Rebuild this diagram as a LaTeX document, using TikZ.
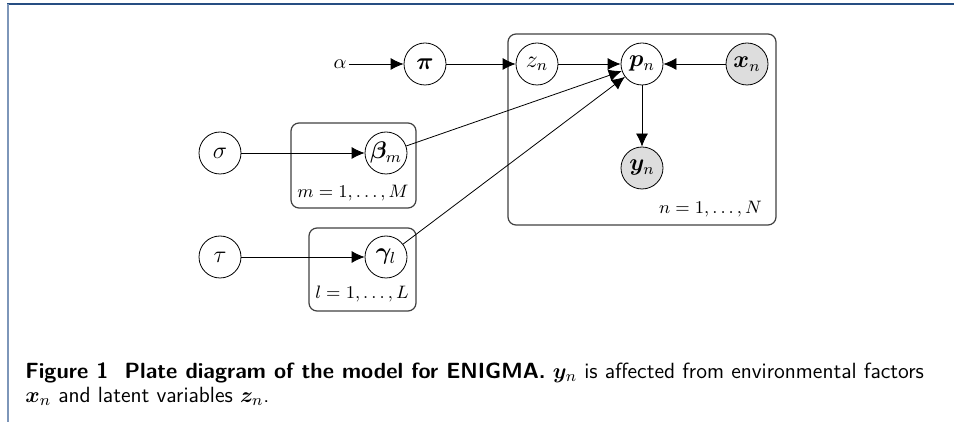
\documentclass[tikz,border=0pt]{standalone}
\usepackage{amsmath}
\usepackage{bm}
\usepackage{tikz}
\usetikzlibrary{arrows.meta}
\usetikzlibrary{positioning}
\definecolor{obs}{RGB}{221, 221, 221}
\definecolor{frametop}{RGB}{38, 78, 130}
\definecolor{frameleft}{RGB}{125, 150, 185}
\tikzset{
  latent/.style={circle, minimum size=21pt, inner sep=0pt, draw=black, line width=0.4pt, fill=white, font=\fontsize{11.5}{13}\selectfont},
  observed/.style={latent, fill=obs},
  plate/.style={draw=black!75, line width=0.6pt, rounded corners=4pt},
  platelab/.style={font=\fontsize{8.6}{10}\selectfont},
  edge/.style={-{Latex[length=6.5pt,width=6pt]}, line width=0.4pt, color=black}
}

\begin{document}
\begin{tikzpicture}[x=0.5pt, y=-0.5pt]
\useasboundingbox (0,0) rectangle (954,422);
% frame
\draw [frametop, line width=1pt] (7,4) -- (954,4);
\draw [frameleft, line width=1pt] (8,4) -- (8,422);
% plates
\draw [plate] (508,34) rectangle (776,225);
\draw [plate] (291,123) rectangle (416,208);
\draw [plate] (309,228) rectangle (416,311);
\node (Nlab) [platelab, anchor=east] at (769,209) {$n = 1, \ldots, N$};
\node (Mlab) [platelab] at (353,193) {$m = 1, \ldots, M$};
\node (Llab) [platelab] at (362,294) {$l = 1, \ldots, L$};
% nodes
\node (alpha) [inner sep=1pt] at (340,64) {$\alpha$};
\node (pi) [latent] at (425,64) {$\bm{\pi}$};
\node (z) [latent] at (537,64) {$z_n$};
\node (p) [latent] at (642,64) {$\bm{p}_n$};
\node (x) [observed] at (747,64) {$\bm{x}_n$};
\node (y) [observed] at (642,168) {$\bm{y}_n$};
\node (sigma) [latent] at (220,153) {$\sigma$};
\node (beta) [latent] at (386,153) {$\bm{\beta}_m$};
\node (tau) [latent] at (220,257) {$\tau$};
\node (gamma) [latent] at (386,257) {$\bm{\gamma}_l$};
% edges
\draw [edge] (alpha) to (pi);
\draw [edge] (pi) to (z);
\draw [edge] (z) to (p);
\draw [edge] (x) to (p);
\draw [edge] (p) to (y);
\draw [edge] (beta) to (p);
\draw [edge] (gamma) to (p);
\draw [edge] (sigma) to (beta);
\draw [edge] (tau) to (gamma);
% caption
\node (cap) [anchor=base west, align=left, inner sep=0pt, font=\fontsize{11}{12}\selectfont\sffamily] at (25,402)
  {\textbf{Figure 1\ \ Plate diagram of the model for ENIGMA.} $\bm{y}_n$ is affected from environmental factors\\
   $\bm{x}_n$ and latent variables $\bm{z}_n$.};
\end{tikzpicture}
\end{document}
